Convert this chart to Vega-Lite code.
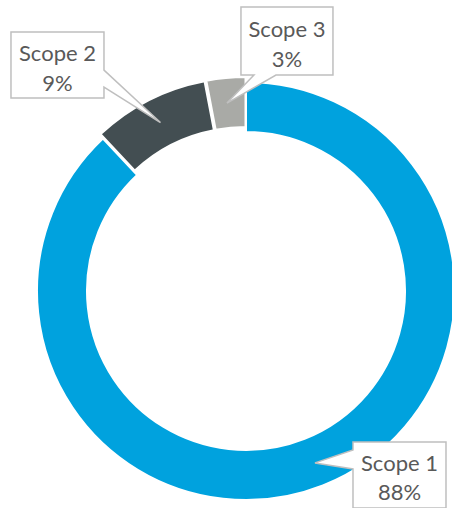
{
  "$schema": "https://vega.github.io/schema/vega-lite/v6.json",
  "width": 452,
  "height": 508,
  "autosize": "none",
  "padding": 0,
  "background": "white",
  "config": {"view": {"stroke": null}},
  "data": {"values": [
    {"cat": "Scope 1", "value": 0.88},
    {"cat": "Scope 2", "value": 0.09},
    {"cat": "Scope 3", "value": 0.03}
  ]},
  "transform": [
    {"stack": "value", "groupby": [], "sort": [{"field": "cat", "order": "ascending"}], "as": ["v0", "v1"]}
  ],
  "layer": [
    {
      "transform": [{"filter": "datum.cat === 'Scope 1'"}],
      "mark": {"type": "arc", "outerRadius": 209, "innerRadius": 159, "stroke": "white", "strokeWidth": 2, "fill": "#00A2DE"},
      "encoding": {
        "theta": {"field": "v0", "type": "quantitative", "scale": {"domain": [0, 1]}},
        "theta2": {"field": "v1"},
        "x": {"datum": 0, "type": "quantitative", "scale": {"domain": [-1.177, 0.9856], "nice": false, "zero": false}, "axis": null},
        "y": {"datum": 0, "type": "quantitative", "scale": {"domain": [-1.0383, 1.3923], "nice": false, "zero": false}, "axis": null}
      }
    },
    {
      "transform": [{"filter": "datum.cat === 'Scope 2'"}],
      "mark": {"type": "arc", "outerRadius": 209, "innerRadius": 159, "stroke": "white", "strokeWidth": 2, "fill": "#434E52"},
      "encoding": {
        "theta": {"field": "v0", "type": "quantitative", "scale": {"domain": [0, 1]}},
        "theta2": {"field": "v1"},
        "x": {"datum": -0.011, "type": "quantitative", "axis": null},
        "y": {"datum": 0.0215, "type": "quantitative", "axis": null}
      }
    },
    {
      "transform": [{"filter": "datum.cat === 'Scope 3'"}],
      "mark": {"type": "arc", "outerRadius": 209, "innerRadius": 159, "stroke": "white", "strokeWidth": 2, "fill": "#A9AAA6"},
      "encoding": {
        "theta": {"field": "v0", "type": "quantitative", "scale": {"domain": [0, 1]}},
        "theta2": {"field": "v1"},
        "x": {"datum": -0.0024, "type": "quantitative", "axis": null},
        "y": {"datum": 0.0239, "type": "quantitative", "axis": null}
      }
    },
    {
      "transform": [{"filter": "datum.cat === 'Scope 1'"}],
      "encoding": {
        "x": {"datum": 0.7344, "type": "quantitative", "axis": null},
        "y": {"datum": -0.880, "type": "quantitative", "axis": null}
      },
      "layer": [
        {"mark": {"type": "point", "shape": "M-46.5,-33H46.5V33H-46.5V-6L-84.5,-12L-46.5,-25Z", "size": 4, "filled": true, "fill": "white", "stroke": "#BFBFBF", "strokeWidth": 1.5, "opacity": 1}},
        {"mark": {"type": "text", "font": "Lato", "fontSize": 22, "fill": "#595959", "align": "center", "baseline": "alphabetic", "dy": -4}, "encoding": {"text": {"field": "cat"}}},
        {"mark": {"type": "text", "font": "Lato", "fontSize": 22, "fill": "#595959", "align": "center", "baseline": "alphabetic", "dy": 25.5}, "encoding": {"text": {"field": "value", "type": "quantitative", "format": ".0%"}}}
      ]
    },
    {
      "transform": [{"filter": "datum.cat === 'Scope 2'"}],
      "encoding": {
        "x": {"datum": -0.902, "type": "quantitative", "axis": null},
        "y": {"datum": 1.081, "type": "quantitative", "axis": null}
      },
      "layer": [
        {"mark": {"type": "point", "shape": "M-46.5,-33H46.5V5L103,57.5L46.5,22V33H-46.5Z", "size": 4, "filled": true, "fill": "white", "stroke": "#BFBFBF", "strokeWidth": 1.5, "opacity": 1}},
        {"mark": {"type": "text", "font": "Lato", "fontSize": 22, "fill": "#595959", "align": "center", "baseline": "alphabetic", "dy": -4}, "encoding": {"text": {"field": "cat"}}},
        {"mark": {"type": "text", "font": "Lato", "fontSize": 22, "fill": "#595959", "align": "center", "baseline": "alphabetic", "dy": 25.5}, "encoding": {"text": {"field": "value", "type": "quantitative", "format": ".0%"}}}
      ]
    },
    {
      "transform": [{"filter": "datum.cat === 'Scope 3'"}],
      "encoding": {
        "x": {"datum": 0.196, "type": "quantitative", "axis": null},
        "y": {"datum": 1.196, "type": "quantitative", "axis": null}
      },
      "layer": [
        {"mark": {"type": "point", "shape": "M-46,-34H46V34H-11L-60,62L-33,34H-46Z", "size": 4, "filled": true, "fill": "white", "stroke": "#BFBFBF", "strokeWidth": 1.5, "opacity": 1}},
        {"mark": {"type": "text", "font": "Lato", "fontSize": 22, "fill": "#595959", "align": "center", "baseline": "alphabetic", "dy": -4}, "encoding": {"text": {"field": "cat"}}},
        {"mark": {"type": "text", "font": "Lato", "fontSize": 22, "fill": "#595959", "align": "center", "baseline": "alphabetic", "dy": 25.5}, "encoding": {"text": {"field": "value", "type": "quantitative", "format": ".0%"}}}
      ]
    }
  ]
}
